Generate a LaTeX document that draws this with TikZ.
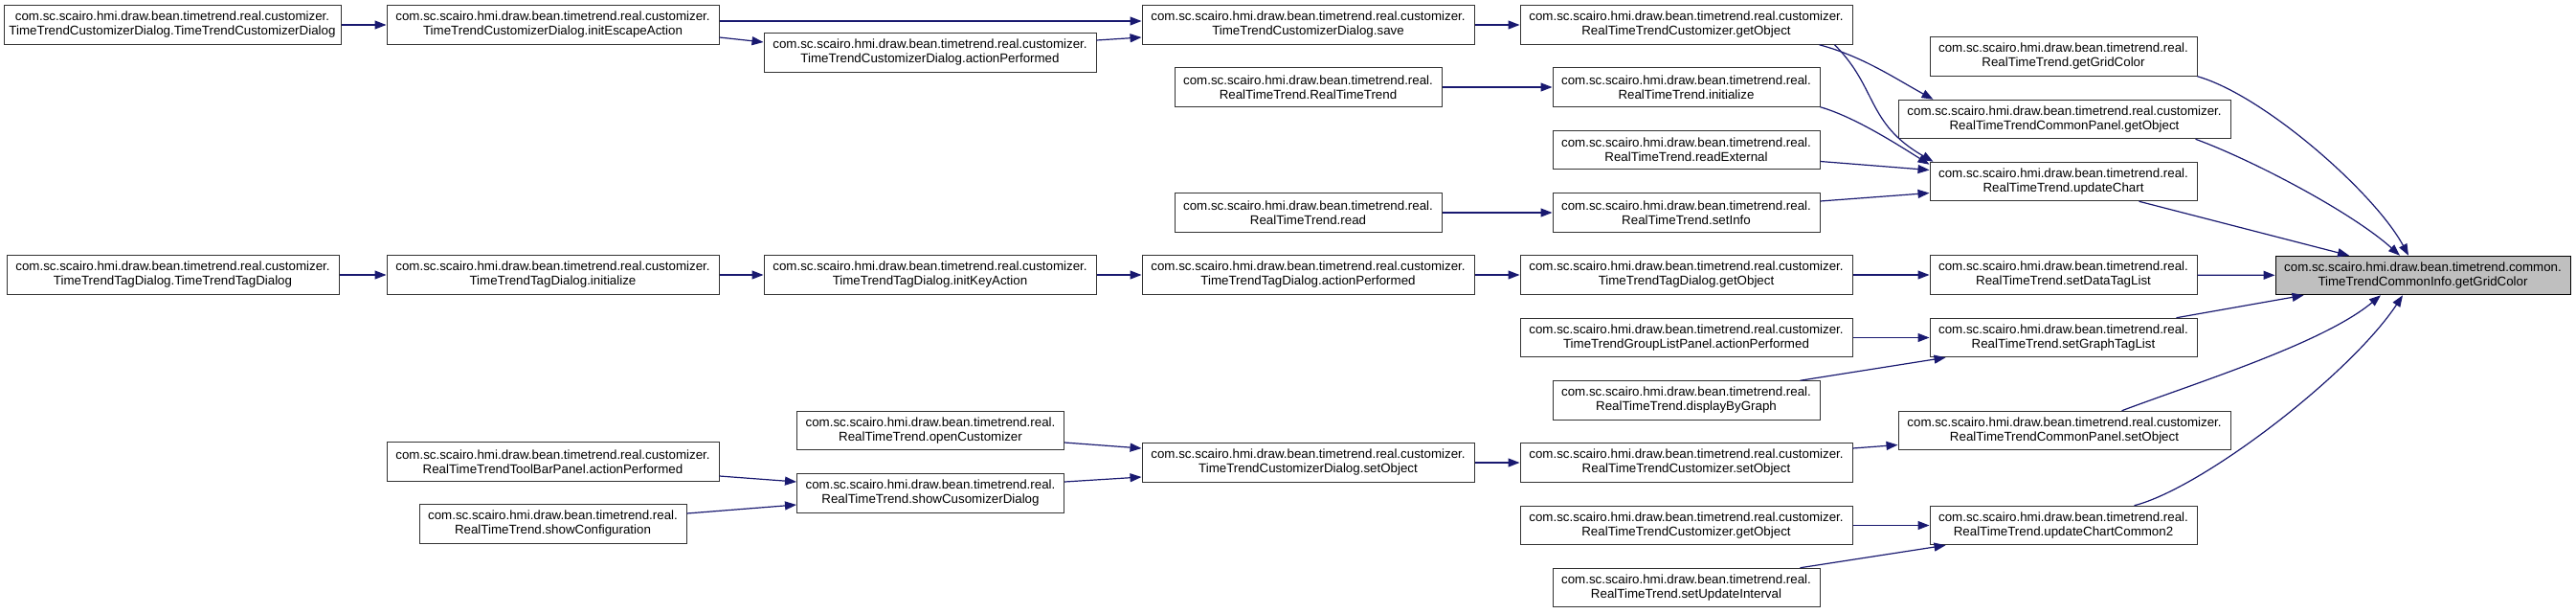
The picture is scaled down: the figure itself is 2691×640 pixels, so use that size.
\documentclass[tikz,border=0pt]{standalone}
\usepackage{fontspec}
\setmainfont{Liberation Sans}
\usepackage{tikz}
\usetikzlibrary{calc,arrows.meta}
\definecolor{myedge}{RGB}{25,25,112}
\definecolor{mygrey}{RGB}{191,191,191}

\begin{document}
\begin{tikzpicture}[x=1pt,y=-1pt,line width=1pt]
	\tikzstyle{fn}=[draw=black!80,fill=white,rectangle,align=center,minimum height=40.5pt,inner sep=2pt,font=\fontsize{13.33pt}{15pt}\selectfont];
	\tikzstyle{fnw}=[fn,minimum width=347pt];
	\tikzstyle{fnn}=[fn,minimum width=279pt];
	\tikzstyle{fncur}=[fn,fill=mygrey,draw=black,minimum width=308pt];
	\tikzstyle{call}=[myedge,line width=1.2pt,-{Triangle[length=12pt,width=9pt]}];
	\useasboundingbox (0,0) rectangle (2691,640);
	\node[fn,minimum width=352pt] (ttcdNew)  at (180,26)     {com.sc.scairo.hmi.draw.bean.timetrend.real.customizer.\\TimeTrendCustomizerDialog.TimeTrendCustomizerDialog};
	\node[fnw] (escAct)   at (577.5,26)    {com.sc.scairo.hmi.draw.bean.timetrend.real.customizer.\\TimeTrendCustomizerDialog.initEscapeAction};
	\node[fnw] (ttcdAct)  at (971.5,55)    {com.sc.scairo.hmi.draw.bean.timetrend.real.customizer.\\TimeTrendCustomizerDialog.actionPerformed};
	\node[fnw] (save)     at (1366.5,26)   {com.sc.scairo.hmi.draw.bean.timetrend.real.customizer.\\TimeTrendCustomizerDialog.save};
	\node[fnw] (rttcGet)  at (1761.5,26)   {com.sc.scairo.hmi.draw.bean.timetrend.real.customizer.\\RealTimeTrendCustomizer.getObject};
	\node[fnn] (rttNew)   at (1366.5,91)   {com.sc.scairo.hmi.draw.bean.timetrend.real.\\RealTimeTrend.RealTimeTrend};
	\node[fnn] (rttInit)  at (1761.5,91)   {com.sc.scairo.hmi.draw.bean.timetrend.real.\\RealTimeTrend.initialize};
	\node[fnn] (readExt)  at (1761.5,156.5){com.sc.scairo.hmi.draw.bean.timetrend.real.\\RealTimeTrend.readExternal};
	\node[fnn] (rttRead)  at (1366.5,222)  {com.sc.scairo.hmi.draw.bean.timetrend.real.\\RealTimeTrend.read};
	\node[fnn] (setInfo)  at (1761.5,222)  {com.sc.scairo.hmi.draw.bean.timetrend.real.\\RealTimeTrend.setInfo};
	\node[fnn] (gridCol)  at (2155.5,59)   {com.sc.scairo.hmi.draw.bean.timetrend.real.\\RealTimeTrend.getGridColor};
	\node[fnw] (cpGet)    at (2156.5,124.5){com.sc.scairo.hmi.draw.bean.timetrend.real.customizer.\\RealTimeTrendCommonPanel.getObject};
	\node[fnn] (uChart)   at (2155.5,189.5){com.sc.scairo.hmi.draw.bean.timetrend.real.\\RealTimeTrend.updateChart};
	\node[fnw] (tttdNew)  at (180.5,287)   {com.sc.scairo.hmi.draw.bean.timetrend.real.customizer.\\TimeTrendTagDialog.TimeTrendTagDialog};
	\node[fnw] (tttdInit) at (577.5,287)   {com.sc.scairo.hmi.draw.bean.timetrend.real.customizer.\\TimeTrendTagDialog.initialize};
	\node[fnw] (keyAct)   at (971.5,287)   {com.sc.scairo.hmi.draw.bean.timetrend.real.customizer.\\TimeTrendTagDialog.initKeyAction};
	\node[fnw] (tttdAct)  at (1366.5,287)  {com.sc.scairo.hmi.draw.bean.timetrend.real.customizer.\\TimeTrendTagDialog.actionPerformed};
	\node[fnw] (tttdGet)  at (1761.5,287)  {com.sc.scairo.hmi.draw.bean.timetrend.real.customizer.\\TimeTrendTagDialog.getObject};
	\node[fnn] (dataTag)  at (2155.5,287)  {com.sc.scairo.hmi.draw.bean.timetrend.real.\\RealTimeTrend.setDataTagList};
	\node[fncur] (target) at (2531,287.5)  {com.sc.scairo.hmi.draw.bean.timetrend.common.\\TimeTrendCommonInfo.getGridColor};
	\node[fnw] (groupAct) at (1761.5,352.5){com.sc.scairo.hmi.draw.bean.timetrend.real.customizer.\\TimeTrendGroupListPanel.actionPerformed};
	\node[fnn] (byGraph)  at (1761.5,418)  {com.sc.scairo.hmi.draw.bean.timetrend.real.\\RealTimeTrend.displayByGraph};
	\node[fnn] (graphTag) at (2155.5,352.5){com.sc.scairo.hmi.draw.bean.timetrend.real.\\RealTimeTrend.setGraphTagList};
	\node[fnw] (cpSet)    at (2156.5,449.5){com.sc.scairo.hmi.draw.bean.timetrend.real.customizer.\\RealTimeTrendCommonPanel.setObject};
	\node[fnn] (openCust) at (972,449.5)   {com.sc.scairo.hmi.draw.bean.timetrend.real.\\RealTimeTrend.openCustomizer};
	\node[fnn] (showCust) at (972,515)     {com.sc.scairo.hmi.draw.bean.timetrend.real.\\RealTimeTrend.showCusomizerDialog};
	\node[fnw] (ttcdSet)  at (1366.5,483)  {com.sc.scairo.hmi.draw.bean.timetrend.real.customizer.\\TimeTrendCustomizerDialog.setObject};
	\node[fnw] (rttcSet)  at (1761.5,483)  {com.sc.scairo.hmi.draw.bean.timetrend.real.customizer.\\RealTimeTrendCustomizer.setObject};
	\node[fnw] (toolAct)  at (577.5,482)   {com.sc.scairo.hmi.draw.bean.timetrend.real.customizer.\\RealTimeTrendToolBarPanel.actionPerformed};
	\node[fnn] (showConf) at (577.5,547)   {com.sc.scairo.hmi.draw.bean.timetrend.real.\\RealTimeTrend.showConfiguration};
	\node[fnw] (rttcGet2) at (1761.5,548.5){com.sc.scairo.hmi.draw.bean.timetrend.real.customizer.\\RealTimeTrendCustomizer.getObject};
	\node[fnn] (updInt)   at (1761.5,613.5){com.sc.scairo.hmi.draw.bean.timetrend.real.\\RealTimeTrend.setUpdateInterval};
	\node[fnn] (uChart2)  at (2155.5,548.5){com.sc.scairo.hmi.draw.bean.timetrend.real.\\RealTimeTrend.updateChartCommon2};
	\draw[call] (ttcdNew) -- (escAct);
	\draw[call] ($(escAct.east)+(0,-4)$) -- ($(save.west)+(0,-4)$);
	\draw[call] ($(escAct.east)+(0,13)$) -- ($(ttcdAct.west)+(0,-11)$);
	\draw[call] ($(ttcdAct.east)+(0,-13)$) -- ($(save.west)+(0,13)$);
	\draw[call] (save) -- (rttcGet);
	\draw[call] ($(rttcGet.south east)+(-35,0)$) .. controls +(45,12) and +(-40,-22) .. ($(cpGet.north west)+(37,0)$);
	\draw[call] ($(rttcGet.south east)+(-19,0)$) .. controls +(45,45) and +(-70,-40) .. ($(uChart.north west)+(4,0)$);
	\draw[call] (rttNew) -- (rttInit);
	\draw[call] (rttInit.south east) .. controls +(35,10) and +(-35,-22) .. ($(uChart.north west)+(0,3)$);
	\draw[call] ($(readExt.east)+(0,12)$) -- ($(uChart.west)+(0,-12)$);
	\draw[call] (rttRead) -- (setInfo);
	\draw[call] ($(setInfo.east)+(0,-12)$) -- ($(uChart.west)+(0,12)$);
	\draw[call] (tttdNew) -- (tttdInit);
	\draw[call] (tttdInit) -- (keyAct);
	\draw[call] (keyAct) -- (tttdAct);
	\draw[call] (tttdAct) -- (tttdGet);
	\draw[call] (tttdGet) -- (dataTag);
	\draw[call] (dataTag) -- (target);
	\draw[call] (gridCol.south east) .. controls +(70,20) and +(-35,-65) .. ($(target.north)+(-15,0)$);
	\draw[call] ($(cpGet.south east)+(-37,0)$) .. controls +(60,22) and +(-50,-45) .. ($(target.north)+(-24,0)$);
	\draw[call] ($(uChart.south east)+(-61,0)$) -- ($(target.north)+(-77,0)$);
	\draw[call] (groupAct) -- (graphTag);
	\draw[call] ($(byGraph.north east)+(-21,0)$) -- ($(graphTag.south west)+(17,0)$);
	\draw[call] ($(graphTag.north east)+(-22,0)$) -- ($(target.south west)+(30,0)$);
	\draw[call] ($(rttcSet.east)+(0,-15)$) -- ($(cpSet.west)+(0,15)$);
	\draw[call] ($(cpSet.north)+(60,0)$) .. controls +(80,-30) and +(-60,50) .. ($(target.south)+(-44,0)$);
	\draw[call] (ttcdSet) -- (rttcSet);
	\draw[call] ($(openCust.east)+(0,12.5)$) -- ($(ttcdSet.west)+(0,-15)$);
	\draw[call] ($(showCust.east)+(0,-12)$) -- ($(ttcdSet.west)+(0,15)$);
	\draw[call] ($(toolAct.east)+(0,15)$) -- ($(showCust.west)+(0,-12)$);
	\draw[call] ($(showConf.east)+(0,-11)$) -- ($(showCust.west)+(0,12)$);
	\draw[call] (rttcGet2) -- (uChart2);
	\draw[call] ($(updInt.north east)+(-21,0)$) -- ($(uChart2.south west)+(17,0)$);
	\draw[call] ($(uChart2.north)+(74,0)$) .. controls +(71,-18) and +(-55,83) .. ($(target.south)+(-21,0)$);
\end{tikzpicture}
\end{document}
